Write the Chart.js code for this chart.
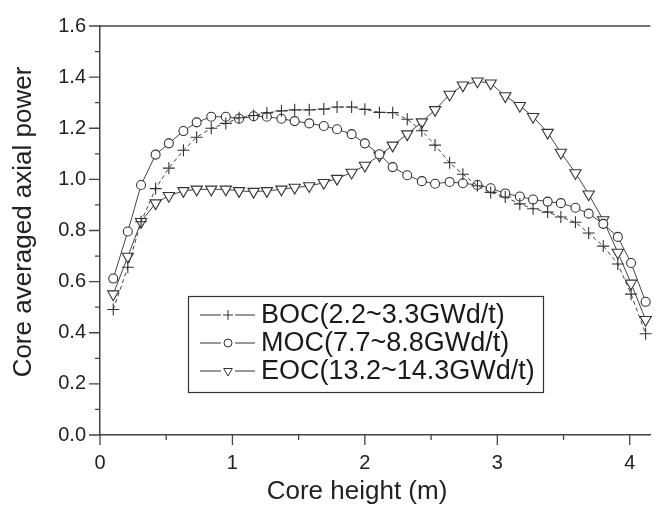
<!DOCTYPE html>
<html>
<head>
<meta charset="utf-8">
<script src="https://cdn.jsdelivr.net/npm/chart.js@4.4.0/dist/chart.umd.min.js"></script>
<style>
  html, body { margin: 0; padding: 0; background: #fff; }
  #wrap { width: 658px; height: 510px; position: relative; }
</style>
</head>
<body>
<div id="wrap"><canvas id="axialPower"></canvas></div>
<script>
// core heights of the nodes (m)
var heights = [0.10, 0.21, 0.31, 0.42, 0.52, 0.63, 0.73, 0.84, 0.95, 1.05,
               1.16, 1.26, 1.37, 1.47, 1.58, 1.69, 1.79, 1.90, 2.00, 2.11,
               2.21, 2.32, 2.43, 2.53, 2.64, 2.74, 2.85, 2.95, 3.06, 3.17,
               3.27, 3.38, 3.48, 3.59, 3.69, 3.80, 3.91, 4.01, 4.12];

var bocPower = [0.491, 0.656, 0.834, 0.964, 1.044, 1.114, 1.165, 1.200, 1.219, 1.241,
                1.250, 1.260, 1.268, 1.272, 1.272, 1.275, 1.283, 1.283, 1.274, 1.262,
                1.261, 1.235, 1.190, 1.134, 1.065, 1.020, 0.975, 0.949, 0.931, 0.904,
                0.885, 0.872, 0.853, 0.832, 0.790, 0.739, 0.669, 0.551, 0.396];

var mocPower = [0.612, 0.796, 0.978, 1.097, 1.141, 1.189, 1.223, 1.245, 1.245, 1.237,
                1.247, 1.245, 1.237, 1.228, 1.219, 1.209, 1.196, 1.177, 1.141, 1.098,
                1.048, 1.016, 0.993, 0.983, 0.990, 0.985, 0.978, 0.965, 0.945, 0.933,
                0.921, 0.913, 0.907, 0.889, 0.866, 0.826, 0.775, 0.673, 0.521];

var eocPower = [0.551, 0.698, 0.834, 0.907, 0.936, 0.955, 0.961, 0.961, 0.961, 0.955,
                0.952, 0.955, 0.961, 0.968, 0.974, 0.987, 1.003, 1.027, 1.054, 1.094,
                1.133, 1.177, 1.224, 1.272, 1.332, 1.368, 1.384, 1.376, 1.326, 1.288,
                1.245, 1.183, 1.105, 1.025, 0.942, 0.841, 0.714, 0.593, 0.451];

var seriesLabels = ['BOC(2.2~3.3GWd/t)', 'MOC(7.7~8.8GWd/t)', 'EOC(13.2~14.3GWd/t)'];
var xTickValues = [0, 0.5, 1, 1.5, 2, 2.5, 3, 3.5, 4];
var xTickLabels = ['0', '', '1', '', '2', '', '3', '', '4'];
var yTickLabels = ['0.0', '0.2', '0.4', '0.6', '0.8', '1.0', '1.2', '1.4', '1.6'];

var ink = '#333333';
var fontFamily = "'Liberation Sans', Arial, Helvetica, sans-serif";

function toPoints(values) {
    return values.map(function(v, i) { return { x: heights[i], y: v }; });
}

// minor + major tick marks, top frame line, axis titles
var tickMarks = {
    id: 'tickMarks',
    afterDraw: function(chart) {
        var ctx = chart.ctx, xs = chart.scales.x, ys = chart.scales.y, area = chart.chartArea;
        ctx.save();
        ctx.strokeStyle = '#444';
        ctx.lineWidth = 1.3;
        ctx.beginPath();
        xs.ticks.forEach(function(t) {
            var px = xs.getPixelForValue(t.value);
            var major = Math.abs(t.value - Math.round(t.value)) < 1e-6;
            ctx.moveTo(px, area.bottom);
            ctx.lineTo(px, area.bottom + (major ? 10 : 5));
        });
        ys.ticks.forEach(function(t) {
            var py = ys.getPixelForValue(t.value);
            var major = Math.round(t.value * 10) % 2 === 0;
            ctx.moveTo(area.left, py);
            ctx.lineTo(area.left - (major ? 11 : 5), py);
        });
        ctx.moveTo(area.left, area.top);
        ctx.lineTo(area.right, area.top);
        ctx.stroke();

        ctx.fillStyle = '#222';
        ctx.font = '26px ' + fontFamily;
        ctx.textAlign = 'center';
        ctx.textBaseline = 'middle';
        ctx.fillText('Core height (m)', area.left + 257, area.bottom + 57);
        ctx.translate(area.left - 76, area.top + 196);
        ctx.rotate(-Math.PI / 2);
        ctx.fillText('Core averaged axial power', 0, 0);
        ctx.restore();
    }
};

// boxed legend inside the plot
var boxLegend = {
    id: 'boxLegend',
    afterDraw: function(chart) {
        var ctx = chart.ctx;
        var left = 188, top = 296, w = 355, h = 96;
        ctx.save();
        ctx.fillStyle = '#fff';
        ctx.fillRect(left, top, w, h);
        ctx.strokeStyle = '#333';
        ctx.lineWidth = 1.2;
        ctx.strokeRect(left + 0.5, top + 0.5, w, h);
        chart.data.datasets.forEach(function(ds, i) {
            var y = top + 19 + i * 28;
            ctx.strokeStyle = ink;
            ctx.lineWidth = 1;
            ctx.setLineDash([]);
            ctx.beginPath();
            ctx.moveTo(left + 12, y); ctx.lineTo(left + 33, y);
            ctx.moveTo(left + 47, y); ctx.lineTo(left + 67, y);
            ctx.stroke();
            ctx.fillStyle = '#fff';
            Chart.helpers.drawPoint(ctx, {
                pointStyle: ds.pointStyle,
                rotation: ds.pointRotation || 0,
                radius: ds.pointStyle === 'circle' ? 4 : 5,
                borderWidth: 1
            }, left + 40, y);
            ctx.fillStyle = '#1a1a1a';
            ctx.font = '27px ' + fontFamily;
            ctx.textAlign = 'left';
            ctx.textBaseline = 'middle';
            ctx.fillText(ds.label, left + 73, y + 1);
        });
        ctx.restore();
    }
};

var commonSet = {
    showLine: true,
    borderColor: '#444',
    borderWidth: 1,
    pointBorderColor: ink,
    pointBackgroundColor: '#fff',
    pointBorderWidth: 1.1,
    clip: false
};

var datasets = [
    Object.assign({}, commonSet, {
        label: seriesLabels[0], data: toPoints(bocPower),
        pointStyle: 'cross', pointRadius: 6, borderDash: [4, 3]
    }),
    Object.assign({}, commonSet, {
        label: seriesLabels[1], data: toPoints(mocPower),
        pointStyle: 'circle', pointRadius: 4.5
    }),
    Object.assign({}, commonSet, {
        label: seriesLabels[2], data: toPoints(eocPower),
        pointStyle: 'triangle', pointRotation: 180, pointRadius: 6.5
    })
];

new Chart(document.getElementById('axialPower'), {
    type: 'scatter',
    data: { datasets: datasets },
    plugins: [tickMarks, boxLegend],
    options: {
        responsive: true,
        maintainAspectRatio: false,
        animation: false,
        layout: { padding: { top: 13, right: 0, bottom: 0, left: 0 } },
        plugins: { legend: { display: false }, tooltip: { enabled: false } },
        scales: {
            x: {
                type: 'linear', min: 0, max: 4.156,
                grid: { display: true, drawOnChartArea: false, drawTicks: false },
                border: { display: true, color: '#444', width: 1.5 },
                afterBuildTicks: function(scale) {
                    scale.ticks = xTickValues.map(function(v) { return { value: v }; });
                },
                afterFit: function(scale) { scale.height = 75; },
                ticks: {
                    autoSkip: false, maxRotation: 0, padding: 16,
                    color: '#222', font: { size: 20, family: fontFamily },
                    callback: function(v) {
                        var k = xTickValues.indexOf(v);
                        return k >= 0 ? xTickLabels[k] : '';
                    }
                }
            },
            y: {
                type: 'linear', min: 0, max: 1.6,
                grid: { display: true, drawOnChartArea: false, drawTicks: false },
                border: { display: true, color: '#444', width: 1.5 },
                afterFit: function(scale) { scale.width = 100; },
                ticks: {
                    stepSize: 0.1, autoSkip: false, padding: 14,
                    color: '#222', font: { size: 20, family: fontFamily },
                    callback: function(v) {
                        var k = Math.round(v * 10);
                        return k % 2 === 0 ? yTickLabels[k / 2] : '';
                    }
                }
            }
        }
    }
});
</script>
</body>
</html>
